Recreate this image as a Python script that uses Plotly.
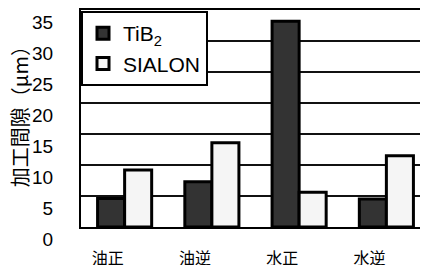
import plotly.graph_objects as go

categories = ["油正", "油逆", "水正", "水逆"]
tib2_values = [4.6, 7.3, 33.2, 4.5]
sialon_values = [9.2, 13.6, 5.6, 11.5]
y_ticks = [0, 5, 10, 15, 20, 25, 30, 35]

FONT = "Liberation Sans, Arial, Noto Sans CJK JP, sans-serif"
CJK = "Noto Sans CJK JP, sans-serif"

fig = go.Figure()
fig.add_trace(go.Bar(
    x=categories, y=tib2_values, name="TiB<sub>2</sub>",
    marker=dict(color="#333333", line=dict(color="black", width=3)),
))
fig.add_trace(go.Bar(
    x=categories, y=sialon_values, name="SIALON",
    marker=dict(color="#f5f5f5", line=dict(color="black", width=3)),
))

# the page body adds an 8px offset, margins compensate for it
fig.update_layout(
    width=428, height=265,
    margin=dict(l=73, r=6, t=2, b=46),
    paper_bgcolor="white", plot_bgcolor="white",
    barmode="group", bargap=0.38, bargroupgap=0,
    font=dict(family=FONT, color="black"),
    showlegend=True,
    legend=dict(
        x=0, y=0.995, xanchor="left", yanchor="top",
        bgcolor="white", bordercolor="black", borderwidth=2,
        font=dict(size=21, family=FONT),
        tracegroupgap=0,
    ),
)
fig.update_xaxes(
    showline=True, linecolor="black", linewidth=2, mirror=True,
    showgrid=False, ticks="", automargin=False,
    tickfont=dict(size=16, family=CJK),
    ticklabelshift=-17, ticklabelstandoff=16,
    ticklabeloverflow="allow",
)
fig.update_yaxes(
    range=[0, 35], tickvals=y_ticks,
    showline=True, linecolor="black", linewidth=2,
    showgrid=True, gridcolor="#111111", gridwidth=1.6,
    zeroline=False, ticks="", automargin=False,
    tickfont=dict(size=19, family=FONT),
    ticklabelshift=12, ticklabelstandoff=22,
    ticklabeloverflow="allow",
)
fig.add_annotation(
    text="加工間隙（μm）", textangle=-90,
    xref="paper", yref="paper", x=-0.176, y=0.532,
    xanchor="center", yanchor="middle", showarrow=False,
    font=dict(size=20, family=CJK, color="black"),
)
fig.write_html("out.html")
